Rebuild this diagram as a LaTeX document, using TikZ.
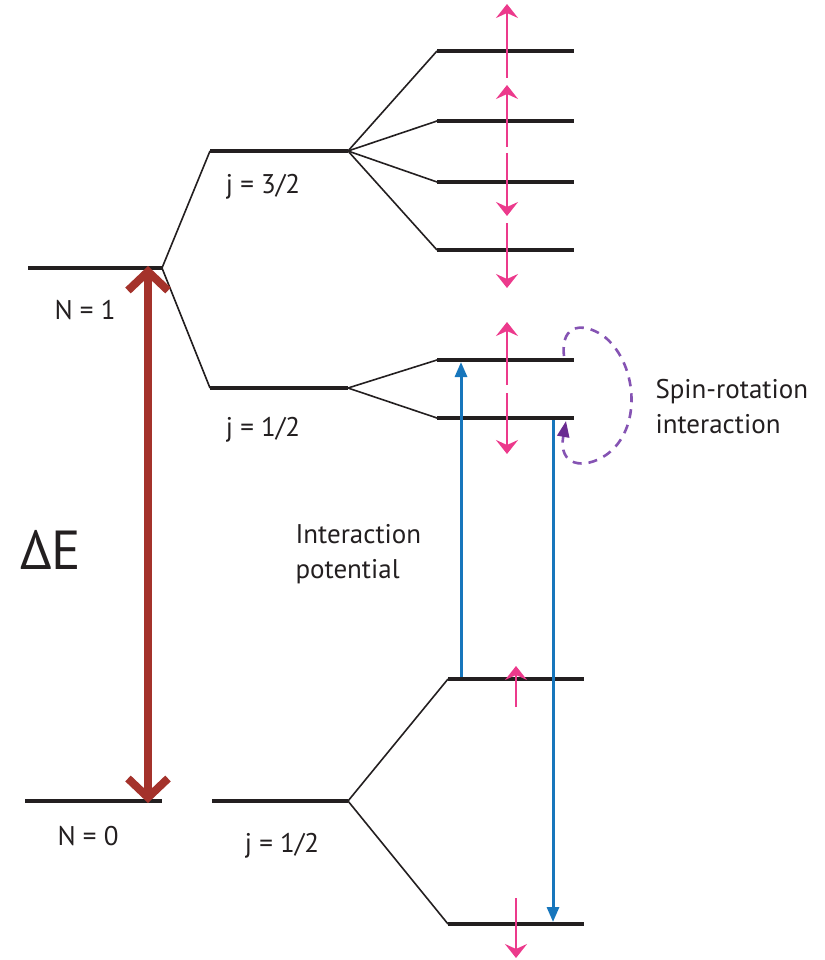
\documentclass[tikz,border=0pt]{standalone}
\usepackage{fontspec}
\setmainfont{PT Sans}
\usetikzlibrary{arrows.meta}
\definecolor{LevelInk}{HTML}{231F20}
\definecolor{GapRed}{HTML}{A4322B}
\definecolor{SpinPink}{HTML}{EC3A8C}
\definecolor{TransBlue}{HTML}{1776BC}
\definecolor{LoopPurple}{HTML}{8553B3}
\definecolor{TipPurple}{HTML}{6A2C91}

\begin{document}
\begin{tikzpicture}[x=1pt, y=-1pt,
  level/.style={draw=LevelInk, line width=4.6pt},
  branch/.style={draw=LevelInk, line width=1.6pt},
  spin/.style={draw=SpinPink, line width=2.6pt,
    -{Stealth[length=14pt, width=22pt, inset=5pt]}},
  trans/.style={draw=TransBlue, line width=3pt,
    -{Triangle[length=15pt, width=12pt]}},
  lbl/.style={font=\fontsize{27}{35}\selectfont, text=LevelInk}]
  \useasboundingbox (0,0) rectangle (824,960);
  \def\xs{507}          % spin arrows, upper manifold
  \def\xb{516}          % spin arrows, lower manifold
  % rotational levels
  \draw[level] (28,268) coordinate (n1L) -- (162,268) coordinate (n1R);
  \draw[level, line width=3.4pt] (25,801) coordinate (n0L) -- (162,801) coordinate (n0R);
  % N = 1 splits into j = 3/2 and j = 1/2
  \draw[level] (210,151) coordinate (j3L) -- (348,151) coordinate (j3R);
  \draw[level] (210,388) coordinate (j1L) -- (348,388) coordinate (j1R);
  \draw[branch] (j3L) -- (n1R) -- (j1L);
  % hyperfine levels of j = 3/2
  \foreach \y/\n in {51/a, 121/b, 182/c, 250/d} {
    \draw[level] (437,\y) coordinate (hf\n) -- (574,\y);
    \draw[branch] (j3R) -- (hf\n);
  }
  % hyperfine levels of j = 1/2
  \draw[level] (437,360) coordinate (hfu) -- (574,360) coordinate (hfuR);
  \draw[level] (437,418) coordinate (hfl) -- (574,418) coordinate (hflR);
  \draw[branch] (hfu) -- (j1R) -- (hfl);
  % N = 0, j = 1/2 and its two levels
  \draw[level] (212,801) coordinate (g1L) -- (348,801) coordinate (g1R);
  \draw[level] (448,679) coordinate (gu) -- (584,679) coordinate (guR);
  \draw[level] (448,924) coordinate (gl) -- (584,924) coordinate (glR);
  \draw[branch] (gu) -- (g1R) -- (gl);
  % energy gap
  \draw[GapRed, line width=8pt,
    {Straight Barb[length=19pt, width=40pt]}-{Straight Barb[length=19pt, width=40pt]}]
    (148,266) -- (148,803);
  \node[font=\fontsize{55}{60}\selectfont, text=LevelInk] (dE) at (51,550) {ΔE};
  % spins
  \draw[spin] (\xs,78) -- (\xs,4);
  \draw[spin] (\xs,147) -- (\xs,85);
  \draw[spin] (\xs,153) -- (\xs,216);
  \draw[spin] (\xs,223) -- (\xs,288);
  \draw[spin] (\xs,385) -- (\xs,322);
  \draw[spin] (\xs,393) -- (\xs,454);
  \draw[spin] (\xb,707) -- (\xb,666);
  \draw[spin] (\xb,898) -- (\xb,958);
  % transitions
  \coordinate (upS) at (461,677);
  \coordinate (upE) at (461,362);
  \coordinate (dnS) at (553,420);
  \coordinate (dnE) at (553,922);
  \draw[trans] (upS) -- (upE);
  \draw[trans] (dnS) -- (dnE);
  % spin-rotation loop
  \draw[LoopPurple, line width=2.6pt, dash pattern=on 9pt off 7pt,
    -{Triangle[length=16pt, width=12pt, color=TipPurple]}]
    (564,356) .. controls (560,322) and (586,322) .. (606,338)
    .. controls (638,366) and (642,430) .. (606,455)
    .. controls (584,470) and (558,466) .. (566,421);
  % labels
  \node[lbl] (labN1) at (85,310) {N = 1};
  \node[lbl] (labN0) at (88,836) {N = 0};
  \node[lbl] (labJ3) at (263,187) {j = 3/2};
  \node[lbl] (labJ1) at (263,430) {j = 1/2};
  \node[lbl] (labG1) at (282,846) {j = 1/2};
  \node[lbl, anchor=west, align=left] (labPot) at (292,554) {Interaction\\potential};
  \node[lbl, anchor=west, align=left] (labSR) at (652,407) {Spin-rotation\\interaction};
\end{tikzpicture}
\end{document}
